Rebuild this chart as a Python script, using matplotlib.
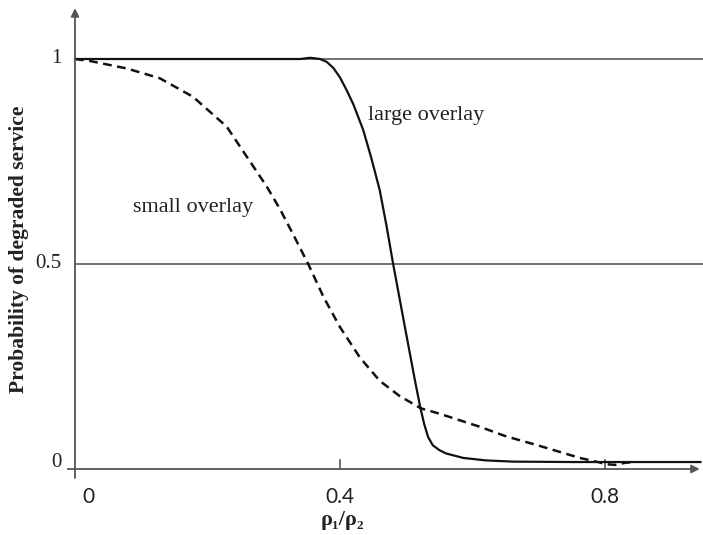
import matplotlib
matplotlib.use("Agg")
import matplotlib.pyplot as plt

# values
large_x = [0.0, 0.30, 0.34, 0.355, 0.37, 0.38, 0.39, 0.40, 0.41, 0.42, 0.435,
           0.447, 0.46, 0.47, 0.48, 0.498, 0.513, 0.521, 0.527, 0.533, 0.54,
           0.55, 0.56, 0.586, 0.62, 0.661, 0.75, 0.944]
large_y = [1.0, 1.0, 1.0, 1.003, 1.0, 0.993, 0.978, 0.955, 0.924, 0.89, 0.827,
           0.76, 0.68, 0.595, 0.502, 0.346, 0.217, 0.152, 0.11, 0.078, 0.058,
           0.046, 0.038, 0.027, 0.021, 0.018, 0.017, 0.017]

small_x = [0.0, 0.023, 0.078, 0.128, 0.178, 0.229, 0.26, 0.289, 0.309, 0.33, 0.352,
           0.375, 0.4, 0.43, 0.46, 0.49, 0.522, 0.55, 0.611, 0.65, 0.7, 0.762,
           0.792, 0.8, 0.815, 0.83, 0.842]
small_y = [1.0, 0.995, 0.977, 0.953, 0.908, 0.835, 0.76, 0.69, 0.635, 0.57, 0.5,
           0.42, 0.346, 0.272, 0.215, 0.178, 0.148, 0.135, 0.103, 0.08, 0.057, 0.027,
           0.016, 0.012, 0.01, 0.015, 0.017]

ref_levels = [1.0, 0.5]
ytick_vals = [1.0, 0.5, 0.0]
ytick_labels = ["1", "0.5", "0"]
xtick_vals = [0.0, 0.4, 0.8]
xtick_labels = ["0", "0.4", "0.8"]

serif = ["Liberation Serif", "DejaVu Serif"]

W, H = 703, 535
fig = plt.figure(figsize=(W / 100, H / 100), dpi=100)
# axes from pixel x 60..703, y 0..480 (from top)
ax = fig.add_axes([60 / W, (H - 480) / H, 643 / W, 480 / H])
ax.set_xlim((60 - 75) / 662.5, (703 - 75) / 662.5)
ax.set_ylim((469 - 480) / 410, 469 / 410)
ax.axis("off")

# reference lines
for lv in ref_levels:
    ax.plot([0, 1.0], [lv, lv], color="#666666", lw=1.3, solid_capstyle="butt")

# axes with arrows
ax.annotate("", xy=(0.943, 0), xytext=(-0.011, 0),
            arrowprops=dict(arrowstyle="-|>", color="#555555", lw=1.3,
                            mutation_scale=12, shrinkA=0, shrinkB=0))
ax.annotate("", xy=(0, 1.124), xytext=(0, -0.022),
            arrowprops=dict(arrowstyle="-|>", color="#555555", lw=1.3,
                            mutation_scale=12, shrinkA=0, shrinkB=0))

# ticks on x-axis
for xv in xtick_vals[1:]:
    ax.plot([xv, xv], [0, 0.022], color="#555555", lw=1.2)

ax.plot(large_x, large_y, color="#111111", lw=1.6)
ax.plot(small_x, small_y, color="#111111", lw=1.8, dashes=(3.5, 2.2))

# tick labels
for v, lab in zip(ytick_vals, ytick_labels):
    ax.text(-0.02, v + (0.016 if v == 0 else 0), lab, ha="right", va="center",
            fontsize=15, family=serif, color="#222222")
for v, lab in zip(xtick_vals, xtick_labels):
    xx = v + (0.02 if v == 0 else 0)
    ax.text(xx, -0.045, lab, ha="center", va="top", fontsize=15,
            family=["Lato", "DejaVu Sans"], color="#222222", clip_on=False)

ax.text(0.53, 0.861, "large overlay", ha="center", va="center", fontsize=16,
        family=serif, color="#222222")
ax.text(0.178, 0.639, "small overlay", ha="center", va="center", fontsize=16,
        family=serif, color="#222222")

fig.text(19 / W, 1 - 249 / H, "Probability of degraded service", rotation=90,
         ha="center", va="center", fontsize=15.5, fontweight="bold", family=serif,
         color="#222222")
fig.text(342 / W, 1 - 520 / H, "ρ₁/ρ₂", ha="center", va="center", fontsize=16,
         fontweight="bold", family=serif, color="#222222")

fig.savefig("out.png", dpi=100)
